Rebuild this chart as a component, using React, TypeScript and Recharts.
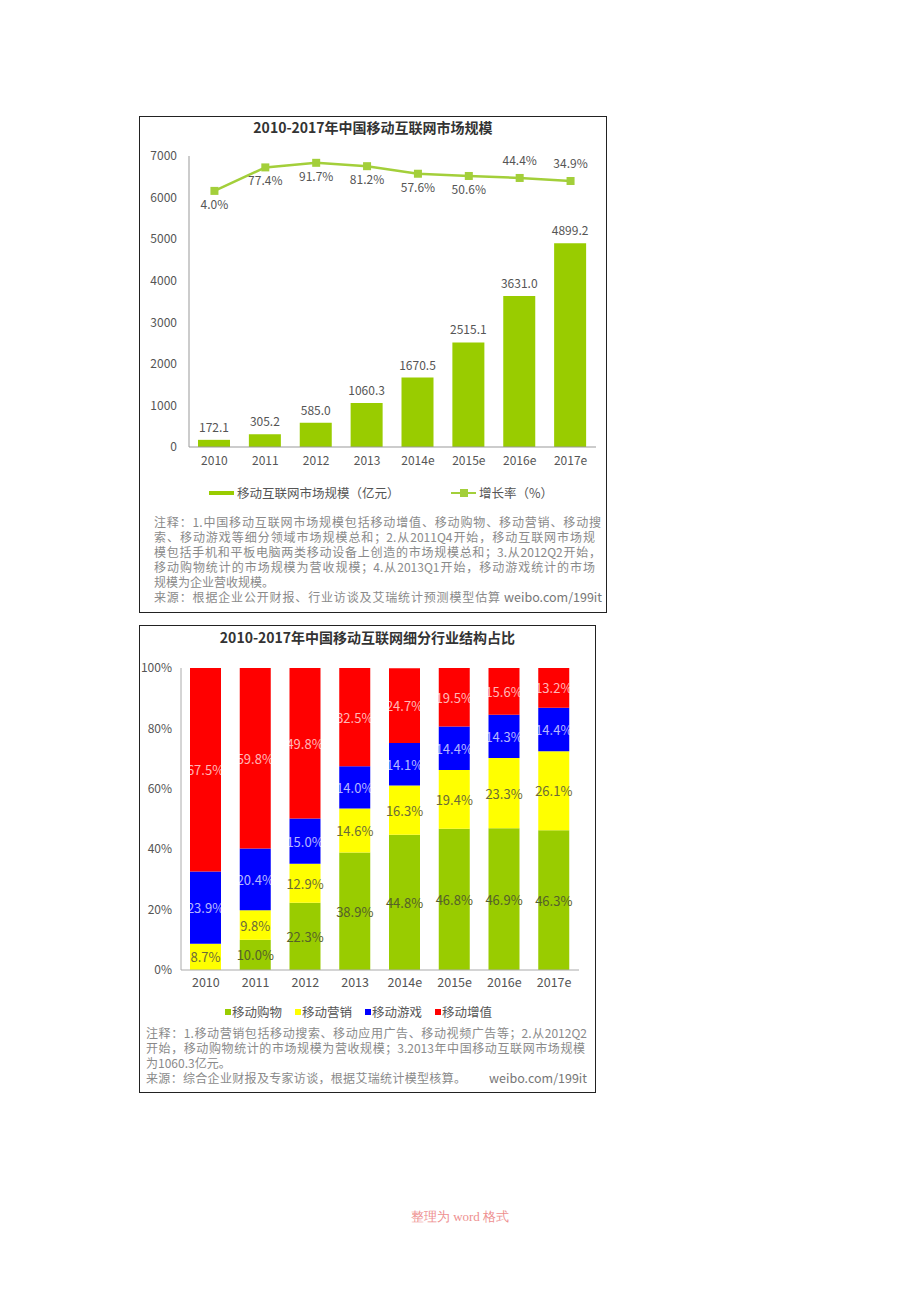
import React from "react";
import { Bar, BarChart, ComposedChart, LabelList, Line, XAxis, YAxis } from "recharts";

const FONT = '"Noto Sans CJK SC", "Noto Sans", sans-serif';

// top chart
const years = ["2010", "2011", "2012", "2013", "2014e", "2015e", "2016e", "2017e"];
const marketSize = [172.1, 305.2, 585.0, 1060.3, 1670.5, 2515.1, 3631.0, 4899.2];
const growthRate = [4.0, 77.4, 91.7, 81.2, 57.6, 50.6, 44.4, 34.9];
const sizeTicks = [0, 1000, 2000, 3000, 4000, 5000, 6000, 7000];

// bottom chart (percent of total)
const shopping = [0, 10.0, 22.3, 38.9, 44.8, 46.8, 46.9, 46.3];
const marketing = [8.7, 9.8, 12.9, 14.6, 16.3, 19.4, 23.3, 26.1];
const games = [23.9, 20.4, 15.0, 14.0, 14.1, 14.4, 14.3, 14.4];
const valueAdded = [67.5, 59.8, 49.8, 32.5, 24.7, 19.5, 15.6, 13.2];
const shareTicks = [0, 20, 40, 60, 80, 100];

const sizeRows = years.map((year, i) => ({ year, size: marketSize[i], rate: growthRate[i] }));
const shareRows = years.map((year, i) => ({
  year,
  shopping: shopping[i],
  marketing: marketing[i],
  games: games[i],
  valueAdded: valueAdded[i],
}));

const shareSeries = [
  { key: "shopping", name: "移动购物", color: "#99cc00", text: "#55602a" },
  { key: "marketing", name: "移动营销", color: "#ffff00", text: "#6b6b3a" },
  { key: "games", name: "移动游戏", color: "#0000ff", text: "rgba(255,255,255,0.72)" },
  { key: "valueAdded", name: "移动增值", color: "#ff0000", text: "rgba(255,255,255,0.72)" },
];

const BAR_GREEN = "#99cc00";
const LINE_GREEN = "#a3cf3a";
const NOTE = "#8a8a8a";

const SquareDot = (props: any) => {
  const { cx, cy } = props;
  return <rect x={cx - 4} y={cy - 4} width={8} height={8} fill={LINE_GREEN} />;
};

const RateLabel = (props: any) => {
  const { x, y, value, index } = props;
  const above = index >= 6;
  return (
    <text x={x} y={above ? y - 13 : y + 18} textAnchor="middle" fontSize={12} fill="#555" fontFamily={FONT}>
      {Number(value).toFixed(1)}%
    </text>
  );
};

const segmentLabel = (color: string) => (props: any) => {
  const { x, y, width, height, value } = props;
  if (!value) return null;
  return (
    <text
      x={x + width / 2}
      y={y + height / 2}
      textAnchor="middle"
      dominantBaseline="central"
      fontSize={13}
      fill={color}
      fontFamily={FONT}
    >
      {Number(value).toFixed(1)}%
    </text>
  );
};

const abs = (left: number, top: number, extra: React.CSSProperties = {}): React.CSSProperties => ({
  position: "absolute",
  left,
  top,
  ...extra,
});

function NoteLine({ left, top, width, size, text, justify = true }: any) {
  return (
    <div
      style={abs(left, top, {
        width,
        fontSize: size,
        lineHeight: "15px",
        height: 15,
        color: NOTE,
        whiteSpace: "nowrap",
        textAlign: justify ? "justify" : "left",
        textAlignLast: justify ? "justify" : "auto",
      } as React.CSSProperties)}
    >
      {text}
    </div>
  );
}

function MarketSizeChart() {
  return (
    <>
      <div style={abs(139, 116, { width: 468, height: 497, border: "1px solid #222", boxSizing: "border-box" })} />
      <div style={abs(139, 118, { width: 468, textAlign: "center", fontSize: 14, fontWeight: 700, color: "#333", lineHeight: "18px" })}>
        2010-2017年中国移动互联网市场规模
      </div>
      <div style={abs(139, 116)}>
        <ComposedChart width={467} height={361} data={sizeRows} margin={{ top: 40, right: 10, left: 0, bottom: 0 }}>
          <XAxis
            dataKey="year"
            height={30}
            axisLine={{ stroke: "#999" }}
            tickLine={false}
            tickSize={0}
            tickMargin={9}
            tick={{ fontSize: 12, fill: "#555", fontFamily: FONT }}
          />
          <YAxis
            yAxisId="size"
            width={50}
            domain={[0, 7000]}
            ticks={sizeTicks}
            axisLine={{ stroke: "#999" }}
            tickLine={false}
            tickSize={0}
            tickMargin={12}
            tick={{ fontSize: 12, fill: "#555", fontFamily: FONT }}
          />
          <YAxis yAxisId="rate" orientation="right" hide domain={[-796, 113]} />
          <Bar yAxisId="size" dataKey="size" fill={BAR_GREEN} barSize={32} isAnimationActive={false}>
            <LabelList
              dataKey="size"
              position="top"
              offset={8}
              formatter={(v: any) => Number(v).toFixed(1)}
              style={{ fontSize: 12, fill: "#555", fontFamily: FONT }}
            />
          </Bar>
          <Line
            yAxisId="rate"
            dataKey="rate"
            stroke={LINE_GREEN}
            strokeWidth={2.5}
            dot={<SquareDot />}
            label={<RateLabel />}
            isAnimationActive={false}
          />
        </ComposedChart>
      </div>
      {/* legend */}
      <div style={abs(209, 491, { width: 25, height: 4, background: BAR_GREEN })} />
      <div style={abs(237, 484, { fontSize: 12.5, lineHeight: "18px", color: "#555" })}>移动互联网市场规模（亿元）</div>
      <div style={abs(451, 492, { width: 25, height: 2, background: LINE_GREEN })} />
      <div style={abs(460, 489, { width: 8, height: 8, background: LINE_GREEN })} />
      <div style={abs(479, 484, { fontSize: 12.5, lineHeight: "18px", color: "#555" })}>增长率（%）</div>
      {/* notes */}
      <NoteLine left={154} top={514} width={447} size={12} text="注释：1.中国移动互联网市场规模包括移动增值、移动购物、移动营销、移动搜" />
      <NoteLine left={154} top={529} width={441} size={12} text="索、移动游戏等细分领域市场规模总和；2.从2011Q4开始，移动互联网市场规" />
      <NoteLine left={154} top={544} width={447} size={12} text="模包括手机和平板电脑两类移动设备上创造的市场规模总和；3.从2012Q2开始，" />
      <NoteLine left={154} top={559} width={441} size={12} text="移动购物统计的市场规模为营收规模；4.从2013Q1开始，移动游戏统计的市场" />
      <NoteLine left={154} top={574} width={300} size={12} justify={false} text="规模为企业营收规模。" />
      <NoteLine left={154} top={589} width={346} size={12} text="来源：根据企业公开财报、行业访谈及艾瑞统计预测模型估算" />
      <div style={abs(504, 589, { width: 98, textAlign: "right", fontSize: 12.5, lineHeight: "15px", color: "#777" })}>weibo.com/199it</div>
    </>
  );
}

function ShareChart() {
  return (
    <>
      <div style={abs(139, 625, { width: 457, height: 468, border: "1px solid #222", boxSizing: "border-box" })} />
      <div style={abs(139, 628, { width: 457, textAlign: "center", fontSize: 14, fontWeight: 700, color: "#333", lineHeight: "18px" })}>
        2010-2017年中国移动互联网细分行业结构占比
      </div>
      <div style={abs(139, 625)}>
        <BarChart width={456} height={375} data={shareRows} margin={{ top: 43, right: 16, left: 0, bottom: 0 }} barSize={31}>
          <XAxis
            dataKey="year"
            height={30}
            axisLine={{ stroke: "#aaa" }}
            tickLine={false}
            tickSize={0}
            tickMargin={8}
            tick={{ fontSize: 12.5, fill: "#555", fontFamily: FONT }}
          />
          <XAxis xAxisId="frame" dataKey="year" orientation="top" height={0} tick={false} tickLine={false} axisLine={{ stroke: "#aaa" }} />
          <YAxis
            width={42}
            domain={[0, 100]}
            allowDataOverflow
            ticks={shareTicks}
            tickFormatter={(v: number) => `${v}%`}
            axisLine={{ stroke: "#aaa" }}
            tickLine={false}
            tickSize={0}
            tickMargin={9}
            tick={{ fontSize: 12, fill: "#555", fontFamily: FONT }}
          />
          <YAxis yAxisId="frame" orientation="right" width={0} tick={false} tickLine={false} axisLine={{ stroke: "#aaa" }} />
          {shareSeries.map((s) => (
            <Bar key={s.key} dataKey={s.key} name={s.name} stackId="share" fill={s.color} isAnimationActive={false}>
              <LabelList dataKey={s.key} content={segmentLabel(s.text)} />
            </Bar>
          ))}
        </BarChart>
      </div>
      {/* legend */}
      {shareSeries.map((s, i) => (
        <React.Fragment key={s.key}>
          <div style={abs(225 + i * 70, 1009, { width: 6, height: 6, background: s.color })} />
          <div style={abs(232 + i * 70, 1003, { fontSize: 12.5, lineHeight: "18px", color: "#555" })}>{s.name}</div>
        </React.Fragment>
      ))}
      {/* notes */}
      <NoteLine left={146} top={1025} width={441} size={12} text="注释：1.移动营销包括移动搜索、移动应用广告、移动视频广告等；2.从2012Q2" />
      <NoteLine left={146} top={1040} width={439} size={12} text="开始，移动购物统计的市场规模为营收规模；3.2013年中国移动互联网市场规模" />
      <NoteLine left={146} top={1055} width={200} size={12} justify={false} text="为1060.3亿元。" />
      <NoteLine left={146} top={1070} width={320} size={12} text="来源：综合企业财报及专家访谈，根据艾瑞统计模型核算。" />
      <div style={abs(480, 1070, { width: 107, textAlign: "right", fontSize: 12.5, lineHeight: "15px", color: "#777" })}>weibo.com/199it</div>
    </>
  );
}

export default function App() {
  return (
    <div style={{ position: "absolute", left: 0, top: 0, width: 920, height: 1302, background: "#fff", fontFamily: FONT }}>
      <MarketSizeChart />
      <ShareChart />
      <div
        style={abs(0, 1208, {
          width: 920,
          textAlign: "center",
          fontFamily: '"Liberation Serif", "DejaVu Serif", serif',
          fontSize: 13,
          lineHeight: "18px",
          color: "#ee9090",
        })}
      >
        整理为 word 格式
      </div>
    </div>
  );
}
